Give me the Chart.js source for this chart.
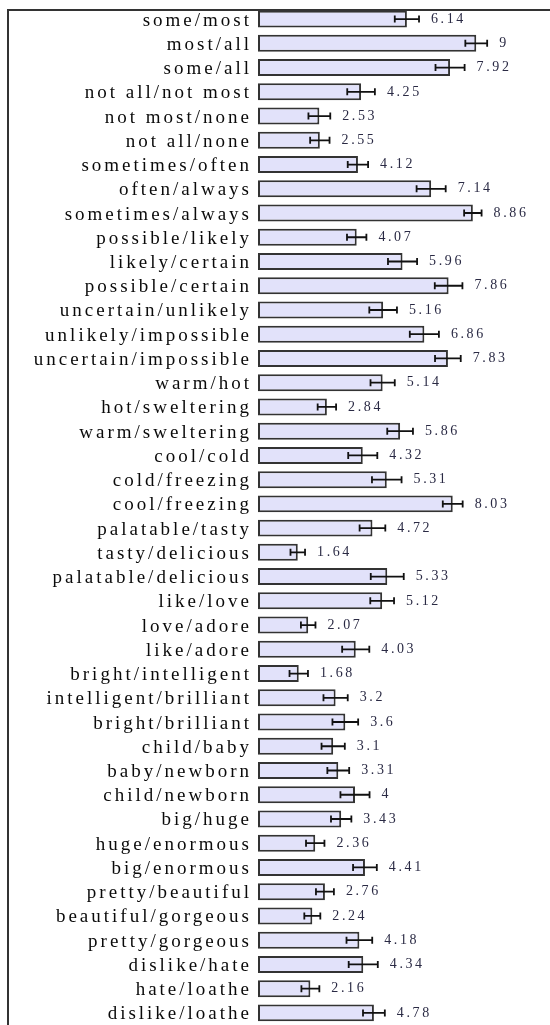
<!DOCTYPE html>
<html>
<head>
<meta charset="utf-8">
<script src="https://cdn.jsdelivr.net/npm/chart.js@4/dist/chart.umd.min.js"></script>
<style>
    html, body { margin: 0; padding: 0; background: #fff; overflow: hidden; }
    #wrap { width: 550px; height: 1025px; }
</style>
</head>
<body>
<div id="wrap"><canvas id="pairChart" width="550" height="1025"></canvas></div>
<script>
// word pairs, top to bottom
const pairs = [
    "some/most", "most/all", "some/all", "not all/not most", "not most/none",
    "not all/none", "sometimes/often", "often/always", "sometimes/always",
    "possible/likely", "likely/certain", "possible/certain", "uncertain/unlikely",
    "unlikely/impossible", "uncertain/impossible", "warm/hot", "hot/sweltering",
    "warm/sweltering", "cool/cold", "cold/freezing", "cool/freezing",
    "palatable/tasty", "tasty/delicious", "palatable/delicious", "like/love",
    "love/adore", "like/adore", "bright/intelligent", "intelligent/brilliant",
    "bright/brilliant", "child/baby", "baby/newborn", "child/newborn",
    "big/huge", "huge/enormous", "big/enormous", "pretty/beautiful",
    "beautiful/gorgeous", "pretty/gorgeous", "dislike/hate", "hate/loathe",
    "dislike/loathe",
]
const means = [
    6.14, 9, 7.92, 4.25, 2.53, 2.55, 4.12, 7.14, 8.86, 4.07, 5.96, 7.86, 5.16,
    6.86, 7.83, 5.14, 2.84, 5.86, 4.32, 5.31, 8.03, 4.72, 1.64, 5.33, 5.12,
    2.07, 4.03, 1.68, 3.2, 3.6, 3.1, 3.31, 4, 3.43, 2.36, 4.41, 2.76, 2.24,
    4.18, 4.34, 2.16, 4.78,
]
// error bar half widths
const errors = [
    0.5, 0.45, 0.6, 0.57, 0.45, 0.4, 0.42, 0.6, 0.36, 0.4, 0.6, 0.57, 0.57,
    0.6, 0.53, 0.5, 0.38, 0.53, 0.6, 0.61, 0.41, 0.53, 0.3, 0.68, 0.49,
    0.3, 0.56, 0.38, 0.5, 0.53, 0.48, 0.45, 0.6, 0.42, 0.38, 0.49, 0.37, 0.33,
    0.53, 0.6, 0.37, 0.45,
]

const serif = "'Liberation Serif', 'DejaVu Serif', serif"

// frame, error bars and value labels
const extras = {
    id: "extras",
    beforeDraw(chart) {
        // wide glyph spacing like the original
        chart.ctx.letterSpacing = "3px"
    },
    afterDatasetsDraw(chart) {
        const ctx = chart.ctx
        const x = chart.scales.x
        const meta = chart.getDatasetMeta(0)
        ctx.save()
        // frame (left + top)
        ctx.strokeStyle = "#333"
        ctx.lineWidth = 2
        ctx.beginPath()
        ctx.moveTo(8, 1025)
        ctx.lineTo(8, 10)
        ctx.lineTo(550, 10)
        ctx.stroke()

        ctx.strokeStyle = "#111"
        ctx.lineWidth = 1.8
        ctx.fillStyle = "#2a2a44"
        ctx.font = "14px " + serif
        ctx.letterSpacing = "2.6px"
        ctx.textAlign = "left"
        ctx.textBaseline = "middle"
        meta.data.forEach((bar, i) => {
            const y = bar.y
            const x0 = x.getPixelForValue(means[i] - errors[i])
            const x1 = x.getPixelForValue(means[i] + errors[i])
            ctx.beginPath()
            ctx.moveTo(x0, y)
            ctx.lineTo(x1, y)
            ctx.moveTo(x0, y - 3.5)
            ctx.lineTo(x0, y + 3.5)
            ctx.moveTo(x1, y - 3.5)
            ctx.lineTo(x1, y + 3.5)
            ctx.stroke()
            ctx.fillText(String(means[i]), x1 + 12, y)
        })
        ctx.restore()
    },
}

const ctx = document.getElementById("pairChart")
new Chart(ctx, {
    type: "bar",
    data: {
        labels: pairs,
        datasets: [
            {
                data: means,
                backgroundColor: "#e2e2fa",
                borderColor: "#333",
                borderWidth: 2,
                borderSkipped: false,
                categoryPercentage: 1,
                barPercentage: 0.7,
            },
        ],
    },
    options: {
        indexAxis: "y",
        responsive: false,
        animation: false,
        layout: { padding: { top: 7, right: 1, left: 0, bottom: 0 } },
        plugins: { legend: { display: false }, tooltip: { enabled: false } },
        scales: {
            x: { display: false, min: 0, max: 12 },
            y: {
                afterFit: (scale) => {
                    scale.width = 258
                    scale.paddingTop = 0
                    scale.paddingBottom = 0
                },
                grid: { display: false, drawTicks: false },
                border: { display: false },
                ticks: {
                    autoSkip: false,
                    padding: 6,
                    labelOffset: 1.5,
                    color: "#0a0a0a",
                    font: { family: serif, size: 19 },
                },
            },
        },
    },
    plugins: [extras],
})
</script>
</body>
</html>
